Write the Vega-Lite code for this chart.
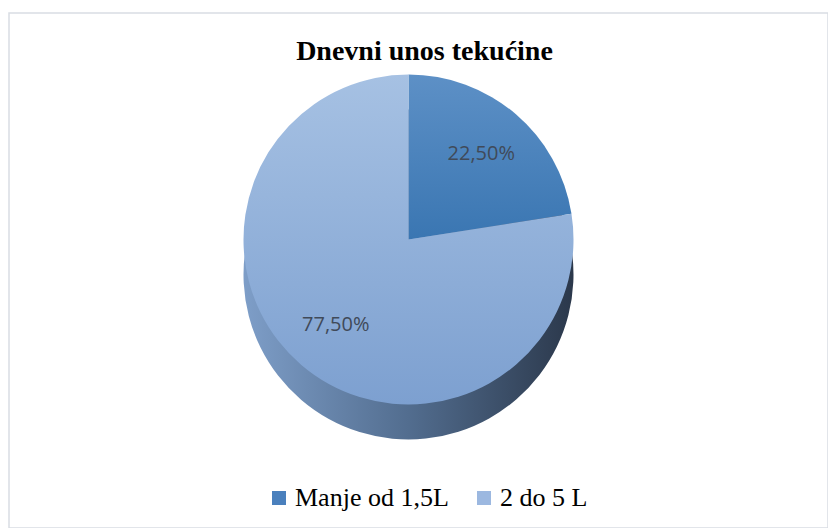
{
  "$schema": "https://vega.github.io/schema/vega-lite/v6.json",
  "autosize": "none",
  "width": 819,
  "height": 515,
  "padding": {"left": 9, "top": 13, "right": 0, "bottom": 0},
  "background": "white",
  "view": {"stroke": "#d9dde3", "strokeWidth": 1.5, "fill": "white"},
  "title": {
    "text": "Dnevni unos tekućine",
    "font": "Liberation Serif",
    "fontSize": 28,
    "fontWeight": "bold",
    "color": "#000000",
    "offset": -53,
    "anchor": "middle",
    "dx": 6
  },
  "data": {
    "values": [
      {"kategorija": "Manje od 1,5L", "postotak": 22.5, "redoslijed": 1, "oznaka": "22,50%"},
      {"kategorija": "2 do 5 L", "postotak": 77.5, "redoslijed": 2, "oznaka": "77,50%"}
    ]
  },
  "encoding": {
    "theta": {"field": "postotak", "type": "quantitative", "stack": true},
    "order": {"field": "redoslijed", "type": "quantitative"}
  },
  "layer": [
    {
      "mark": {
        "type": "arc",
        "radius": 165,
        "xOffset": -10,
        "yOffset": 4,
        "color": {
          "gradient": "linear",
          "x1": 0, "y1": 0, "x2": 1, "y2": 0,
          "stops": [
            {"offset": 0, "color": "#7e9ec8"},
            {"offset": 0.5, "color": "#526d8f"},
            {"offset": 1, "color": "#2b384b"}
          ]
        }
      }
    },
    {
      "mark": {"type": "arc", "radius": 165, "xOffset": -10, "yOffset": -31},
      "encoding": {
        "color": {
          "field": "kategorija",
          "type": "nominal",
          "scale": {"domain": ["Manje od 1,5L", "2 do 5 L"], "range": ["#4a80bd", "#9cb8e0"]},
          "condition": [
            {
              "test": "datum.kategorija === 'Manje od 1,5L'",
              "value": {
                "gradient": "linear",
                "x1": 0, "y1": 0, "x2": 0, "y2": 1,
                "stops": [
                  {"offset": 0, "color": "#5d90c6"},
                  {"offset": 1, "color": "#3a76b2"}
                ]
              }
            },
            {
              "test": "datum.kategorija === '2 do 5 L'",
              "value": {
                "gradient": "linear",
                "x1": 0, "y1": 0, "x2": 0, "y2": 1,
                "stops": [
                  {"offset": 0, "color": "#a6c1e3"},
                  {"offset": 1, "color": "#7da0d0"}
                ]
              }
            }
          ],
          "legend": {
            "orient": "none",
            "legendX": 257,
            "legendY": 472,
            "direction": "horizontal",
            "title": null,
            "symbolType": "square",
            "symbolSize": 196,
            "symbolStrokeWidth": 0,
            "labelFont": "Liberation Serif",
            "labelFontSize": 26,
            "labelColor": "#000000",
            "labelOffset": 3,
            "columnPadding": 22,
            "labelLimit": 300
          }
        }
      }
    },
    {
      "mark": {
        "type": "text",
        "radius": 112,
        "xOffset": -10,
        "yOffset": -31,
        "font": "Open Sans",
        "fontSize": 20,
        "color": "#404a59"
      },
      "encoding": {"text": {"field": "oznaka", "type": "nominal"}}
    }
  ]
}
